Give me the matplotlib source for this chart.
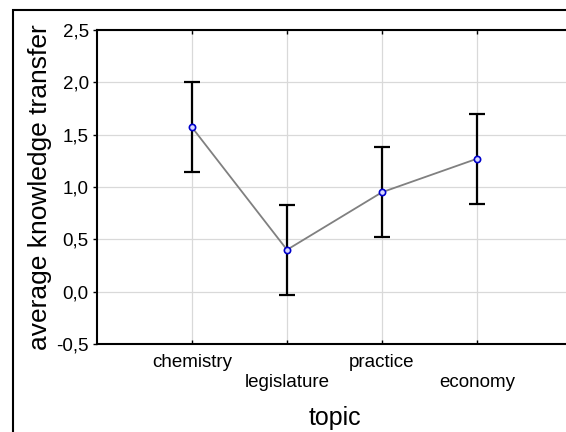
import numpy as np
import matplotlib
matplotlib.use("Agg")
import matplotlib.pyplot as plt
from matplotlib.patches import Rectangle
from matplotlib.ticker import FuncFormatter

topics = ["chemistry", "legislature", "practice", "economy"]
means = [1.57, 0.40, 0.95, 1.27]
err = [0.43, 0.43, 0.43, 0.43]

plt.rcParams['font.family'] = ['Liberation Sans', 'DejaVu Sans']

W, H = 566, 432
fig = plt.figure(figsize=(W / 100, H / 100), dpi=100)

# outer frame, cropped at the right and bottom like the original export
fig.patches.append(Rectangle((13 / W, -0.2), 1.5, 1.2 - 10 / H, transform=fig.transFigure,
                             fill=False, lw=1.5, edgecolor='black', clip_on=False))

ax = fig.add_axes([97 / W, 88 / H, 475 / W, 314 / H])
x = np.arange(len(topics))

ax.errorbar(x, means, yerr=err, fmt='none', ecolor='black', elinewidth=1.6,
            capsize=5.5, capthick=1.6, zorder=3)
ax.plot(x, means, color='#808080', lw=1.3, zorder=4)
ax.plot(x, means, 'o', ms=4.5, mfc='#d8d8ff', mec='#0000cc', mew=1.2, zorder=5)

ax.set_xlim(-1, 4)
ax.set_ylim(-0.5, 2.5)
ax.set_yticks(np.arange(-0.5, 2.51, 0.5))
ax.yaxis.set_major_formatter(FuncFormatter(lambda v, p: f"{v:.1f}".replace('.', ',')))
ax.set_xticks(x)
ax.set_xticklabels(topics, fontsize=13.5)
for i, t in enumerate(ax.xaxis.get_major_ticks()):
    t.set_pad(21.5 if i % 2 else 7)

ax.tick_params(axis='x', direction='in', length=3, top=True, width=1)
ax.tick_params(axis='y', direction='out', length=3, width=1, labelsize=13.5, pad=3)
ax.grid(True, color='#d9d9d9', lw=0.9)
ax.set_axisbelow(True)
for s in ax.spines.values():
    s.set_linewidth(1.5)

ax.set_ylabel("average knowledge transfer", fontsize=19, labelpad=3)
ax.set_xlabel("topic", fontsize=18, labelpad=11)

fig.savefig("out.png", dpi=100)
